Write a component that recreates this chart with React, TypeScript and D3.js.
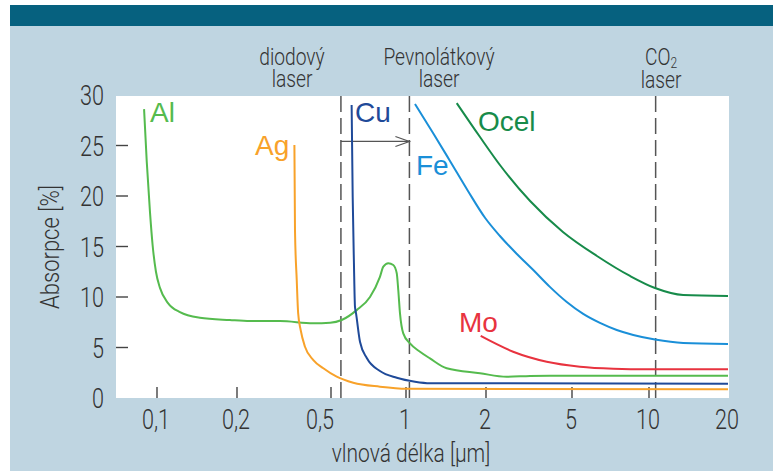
import React, { useEffect } from 'react';
import * as d3 from 'd3';

// wavelength ticks (µm) and absorption ticks (%)
const waveTicks = [0.1, 0.2, 0.5, 1, 2, 5, 10, 20];
const waveTickLabels = ['0,1', '0,2', '0,5', '1', '2', '5', '10', '20'];
const absTicks = [5, 10, 15, 20, 25];
const absTickLabels = [0, 5, 10, 15, 20, 25, 30];

// Al
const alWave = [0.0894, 0.0915, 0.0941, 0.0963, 0.0991, 0.1026, 0.11, 0.122, 0.145, 0.188, 0.227, 0.304, 0.42, 0.496, 0.552, 0.634, 0.717, 0.786, 0.811, 0.849, 0.889, 0.918, 0.931, 0.946, 0.975, 1.035, 1.129, 1.231, 1.423, 1.899, 2.49, 3.2, 3.95, 20];
const alAbs = [28.6, 23.4, 18.4, 15.1, 12.5, 10.9, 9.4, 8.5, 7.95, 7.72, 7.62, 7.62, 7.4, 7.45, 7.72, 8.7, 10.0, 12.0, 13.0, 13.34, 13.17, 12.35, 10.69, 8.38, 6.4, 5.4, 4.58, 3.92, 2.94, 2.45, 2.1, 2.18, 2.2, 2.2];

// Ag
const agWave = [0.35, 0.352, 0.358, 0.363, 0.372, 0.388, 0.421, 0.464, 0.527, 0.614, 0.786, 1.006, 20];
const agAbs = [25.05, 16.6, 11.7, 8.4, 6.73, 5.08, 3.76, 2.94, 2.11, 1.51, 1.12, 0.92, 0.86];

// Cu
const cuWave = [0.605, 0.611, 0.618, 0.624, 0.63, 0.654, 0.696, 0.786, 0.918, 1.081, 1.231, 20];
const cuAbs = [29.0, 19.9, 13.4, 9.04, 8.4, 5.54, 3.96, 2.67, 2.0, 1.61, 1.46, 1.42];

// Fe
const feWave = [1.081, 1.264, 1.464, 1.711, 1.986, 2.32, 2.78, 3.31, 3.95, 4.73, 5.53, 6.43, 7.48, 8.68, 10.54, 13.5, 20];
const feAbs = [29.1, 26.24, 23.47, 20.5, 17.82, 16.04, 14.26, 12.67, 11.0, 9.5, 8.32, 7.43, 6.73, 6.24, 5.79, 5.45, 5.35];

// Ocel
const ocelWave = [1.552, 1.899, 2.32, 3.2, 4.54, 6.26, 8.43, 10.54, 13.5, 20];
const ocelAbs = [29.2, 25.84, 23.07, 19.5, 16.44, 14.06, 12.08, 10.89, 10.2, 10.1];

// Mo
const moWave = [1.91, 2.67, 3.82, 5.37, 7.25, 9.9, 20];
const moAbs = [6.14, 4.58, 3.59, 3.1, 2.9, 2.84, 2.84];

// laser wavelengths
const laserWaves = [0.548, 1.03, 10.6];

const W = 773;
const H = 471;
const plot = { left: 116, right: 729, top: 96, bottom: 398 };

const x = d3.scaleLog()
  .domain(waveTicks)
  .range([157, 237, 331, 406, 486, 572, 649, 728]);

const y = d3.scaleLinear()
  .domain([0, 30])
  .range([plot.bottom, plot.top - 1]);

const line = d3.line<[number, number]>()
  .x(d => x(d[0]))
  .y(d => y(d[1]))
  .curve(d3.curveMonotoneX);

const zip = (a: number[], b: number[]) => a.map((v, i) => [v, b[i]] as [number, number]);

const series = [
  { name: 'Al', wave: alWave, abs: alAbs, color: '#55bb4e' },
  { name: 'Ag', wave: agWave, abs: agAbs, color: '#f8a22a' },
  { name: 'Cu', wave: cuWave, abs: cuAbs, color: '#1f4a99' },
  { name: 'Fe', wave: feWave, abs: feAbs, color: '#1a8fd8' },
  { name: 'Ocel', wave: ocelWave, abs: ocelAbs, color: '#178b4a' },
  { name: 'Mo', wave: moWave, abs: moAbs, color: '#e8333f' },
];

const axisFont = "Roboto, 'DejaVu Sans Condensed', sans-serif";
const labelFont = "'Liberation Sans', Arial, sans-serif";
const axisColor = '#333';

// condensed-looking text: normal font squeezed horizontally
const NText = ({ x, y, size, anchor = 'middle', rotate = 0, sx = 0.8, children }: any) => (
  <text
    transform={`translate(${x},${y}) rotate(${rotate}) scale(${sx},1)`}
    textAnchor={anchor}
    fontFamily={axisFont}
    fontWeight={300}
    fontSize={size}
    fill={axisColor}
  >
    {children}
  </text>
);

const App = () => {
  useEffect(() => {
    document.body.style.margin = '0';
  }, []);

  const arrowY = y(25.4);
  const x1 = x(laserWaves[0]);
  const x2 = x(laserWaves[1]);

  return (
    <svg width={W} height={H} style={{ display: 'block', position: 'absolute', left: 0, top: 0 }}>
      <rect x={0} y={0} width={W} height={H} fill="#ffffff" />
      <rect x={10} y={26} width={W - 10} height={H - 26} fill="#bfd5e1" />
      <rect x={10} y={5} width={W - 10} height={21} fill="#06617f" />
      <rect x={plot.left} y={plot.top} width={plot.right - plot.left} height={plot.bottom - plot.top} fill="#ffffff" />

      {/* y ticks */}
      {absTicks.map(t => (
        <line key={t} x1={plot.left} x2={plot.left + 12} y1={y(t)} y2={y(t)} stroke="#444" strokeWidth={1.4} />
      ))}
      {absTickLabels.map(t => (
        <NText key={t} x={104} y={y(t) + 10} anchor="end" size={27}>{t}</NText>
      ))}

      {/* x ticks */}
      {waveTicks.slice(0, -1).map(t => (
        <line key={t} x1={x(t)} x2={x(t)} y1={plot.bottom} y2={plot.bottom - 11} stroke="#444" strokeWidth={1.4} />
      ))}
      {waveTicks.map((t, i) => (
        <NText key={t} x={x(t) + (t === 0.5 ? -11 : -1)} y={429} size={27}>{waveTickLabels[i]}</NText>
      ))}

      {/* axis titles */}
      <NText x={411} y={462} size={25} sx={0.84}>vlnová délka [µm]</NText>
      <NText x={59} y={247} size={25} rotate={-90} sx={0.88}>Absorpce [%]</NText>

      {/* laser lines */}
      {laserWaves.map(l => (
        <line key={l} x1={x(l)} x2={x(l)} y1={plot.top} y2={plot.bottom} stroke="#555" strokeWidth={1.5} strokeDasharray="16 6" />
      ))}
      <line x1={x1} x2={x2} y1={arrowY} y2={arrowY} stroke="#555" strokeWidth={1.2} />
      <polyline points={`${x2 - 14},${arrowY - 5} ${x2},${arrowY} ${x2 - 14},${arrowY + 5}`} fill="none" stroke="#555" strokeWidth={1.2} />

      <NText x={292} y={65} size={24}>diodový</NText>
      <NText x={292} y={87} size={24}>laser</NText>
      <NText x={439} y={65} size={24}>Pevnolátkový</NText>
      <NText x={439} y={87} size={24}>laser</NText>
      <NText x={661} y={65} size={24}>
        CO<tspan fontSize={15} dy={3}>2</tspan>
      </NText>
      <NText x={661} y={88} size={24}>laser</NText>

      {/* curves */}
      {series.map(s => (
        <path key={s.name} d={line(zip(s.wave, s.abs)) || ''} fill="none" stroke={s.color} strokeWidth={2} strokeLinejoin="round" />
      ))}

      {/* curve labels */}
      <text x={150} y={122} fontFamily={labelFont} fontSize={28} fill={series[0].color}>Al</text>
      <text x={255} y={155} fontFamily={labelFont} fontSize={28} fill={series[1].color}>Ag</text>
      <text x={355} y={122} fontFamily={labelFont} fontSize={28} fill={series[2].color}>Cu</text>
      <text x={416} y={175} fontFamily={labelFont} fontSize={28} fill={series[3].color}>Fe</text>
      <text x={478} y={131} fontFamily={labelFont} fontSize={28} fill={series[4].color}>Ocel</text>
      <text x={459} y={332} fontFamily={labelFont} fontSize={28} fill={series[5].color}>Mo</text>
    </svg>
  );
};

export default App;
